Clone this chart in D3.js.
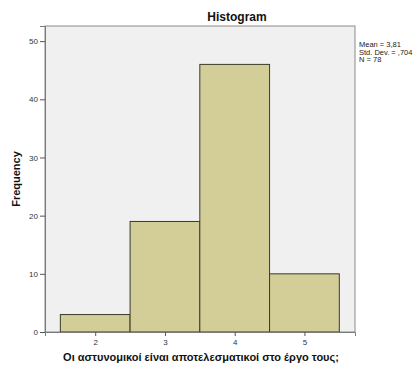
<!DOCTYPE html>
<html><head><meta charset="utf-8">
<script src="https://cdn.jsdelivr.net/npm/d3@7"></script>
<style>body{margin:0;background:#fff}svg{display:block}text{font-family:Arial,"Liberation Sans",sans-serif}</style>
</head><body>
<svg id="c" width="418" height="367"></svg>
<script>
const categories = [2, 3, 4, 5];
const frequencies = [3, 19, 46, 10];
const yTicks = [0, 10, 20, 30, 40, 50];
const stats = ["Mean = 3,81", "Std. Dev. = ,704", "N = 78"];

const svg = d3.select("#c");
const L = 45, R = 355, T = 26, B = 332;
const x = d3.scaleLinear().domain([1.28, 5.725]).range([L, R]);
const y = d3.scaleLinear().domain([0, 52.6]).range([B, T]);

svg.append("rect").attr("x", L).attr("y", T).attr("width", R - L).attr("height", B - T)
  .attr("fill", "#f0f0f0").attr("stroke", "#8a8a8a").attr("stroke-width", 1);

svg.append("g").selectAll("rect").data(categories).join("rect")
  .attr("x", d => x(d - 0.5)).attr("width", d => x(d + 0.5) - x(d - 0.5))
  .attr("y", (d, i) => y(frequencies[i])).attr("height", (d, i) => y(0) - y(frequencies[i]))
  .attr("fill", "#d3ce97").attr("stroke", "#3a3a2a").attr("stroke-width", 1);

const ya = svg.append("g").attr("transform", `translate(${L},0)`)
  .call(d3.axisLeft(y).tickValues(yTicks).tickFormat(d3.format("d")).tickSize(5).tickPadding(2));
const xa = svg.append("g").attr("transform", `translate(0,${B})`)
  .call(d3.axisBottom(x).tickValues(categories).tickFormat(d3.format("d")).tickSize(4).tickPadding(3));
[ya, xa].forEach(a => {
  a.select(".domain").attr("stroke", "#7a7a7a");
  a.selectAll(".tick line").attr("stroke", "#555");
  a.selectAll(".tick text").attr("font-size", 8).attr("fill", "#333");
});

svg.append("text").attr("x", 237).attr("y", 21).attr("text-anchor", "middle")
  .attr("font-size", 12).attr("font-weight", "bold").attr("fill", "#111").text("Histogram");
svg.append("text").attr("transform", "translate(20,179) rotate(-90)").attr("text-anchor", "middle")
  .attr("font-size", 11).attr("font-weight", "bold").attr("fill", "#111").text("Frequency");
svg.append("text").attr("x", 201).attr("y", 361).attr("text-anchor", "middle")
  .attr("font-size", 11).attr("font-weight", "bold").attr("fill", "#111")
  .text("Οι αστυνομικοί είναι αποτελεσματικοί στο έργο τους;");
svg.append("g").selectAll("text").data(stats).join("text")
  .attr("x", 359).attr("y", (d, i) => 47 + i * 7.5)
  .attr("font-size", 7.5).attr("fill", "#222").text(d => d);
</script>
</body></html>
